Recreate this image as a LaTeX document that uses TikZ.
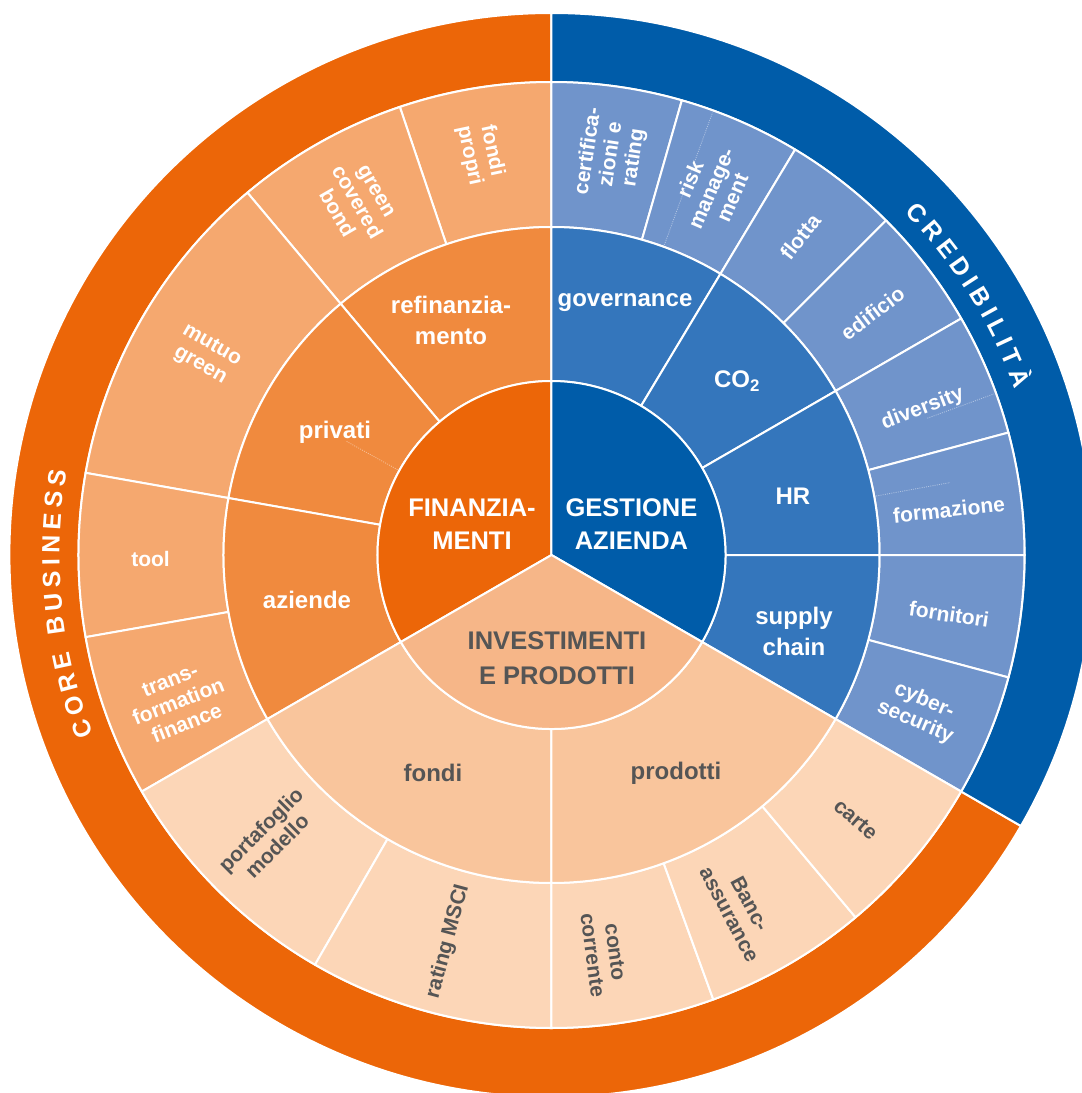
\documentclass[tikz,border=0pt]{standalone}
\usepackage{fontspec}
\setmainfont{Liberation Sans}
\definecolor{orA}{HTML}{EC6608}
\definecolor{orB}{HTML}{F08A3E}
\definecolor{orC}{HTML}{F5A86F}
\definecolor{blA}{HTML}{005CA9}
\definecolor{blB}{HTML}{3476BC}
\definecolor{blC}{HTML}{7094CB}
\definecolor{inA}{HTML}{F6B688}
\definecolor{inB}{HTML}{F9C59C}
\definecolor{inC}{HTML}{FCD6B7}
\definecolor{txtgray}{HTML}{555555}
% annular sector: r1 r2 a1 a2 colour
\newcommand{\annsec}[5]{%
  \path[fill=#5, sep] (#3:#1pt) arc[start angle=#3, end angle=#4, radius=#1pt]
    -- (#4:#2pt) arc[start angle=#4, end angle=#3, radius=#2pt] -- cycle;}
% pie sector: r a1 a2 colour
\newcommand{\piesec}[4]{%
  \path[fill=#4, sep] (0,0) -- (#2:#1pt) arc[start angle=#2, end angle=#3, radius=#1pt] -- cycle;}
\begin{document}
\begin{tikzpicture}[
  sep/.style={draw=white, line width=2pt, line join=round},
  faint/.style={draw=white, opacity=0.45, line width=0.8pt, dash pattern=on 1pt off 1.2pt},
  lbl/.style={font=\bfseries\fontsize{21}{23}\selectfont, align=center, inner sep=0pt},
  lw/.style={lbl, text=white},
  lg/.style={lbl, text=txtgray},
  midw/.style={font=\bfseries\fontsize{24}{31}\selectfont, align=center, inner sep=0pt, text=white},
  midg/.style={font=\bfseries\fontsize{24}{31}\selectfont, align=center, inner sep=0pt, text=txtgray},
  ctrw/.style={font=\bfseries\fontsize{25.5}{33.5}\selectfont, align=center, inner sep=0pt, text=white},
  ctrg/.style={font=\bfseries\fontsize{25.5}{35}\selectfont, align=center, inner sep=0pt, text=txtgray},
  bandletter/.style={font=\bfseries\fontsize{25}{25}\selectfont, text=white, anchor=base, inner sep=0pt}
]
\path[use as bounding box] (-551.5pt,-538pt) rectangle (530.5pt,555pt);
\clip (-551.5pt,-538pt) rectangle (530.5pt,555pt);
\fill[white] (-551.5pt,-538pt) rectangle (530.5pt,555pt);

% outer band
\annsec{473}{542}{90}{330}{orA}
\annsec{473}{542}{-30}{90}{blA}

% leaves: finanziamenti
\annsec{328}{473}{90}{108.7}{orC}
\annsec{328}{473}{108.7}{130}{orC}
\annsec{328}{473}{130}{170}{orC}
\annsec{328}{473}{170}{190}{orC}
\annsec{328}{473}{190}{210}{orC}
% leaves: gestione azienda
\annsec{328}{473}{74}{90}{blC}
\annsec{328}{473}{59}{74}{blC}
\annsec{328}{473}{45}{59}{blC}
\annsec{328}{473}{30}{45}{blC}
\annsec{328}{473}{15}{30}{blC}
\annsec{328}{473}{0}{15}{blC}
\annsec{328}{473}{-15}{0}{blC}
\annsec{328}{473}{-30}{-15}{blC}
% leaves: investimenti
\annsec{328}{473}{210}{240}{inC}
\annsec{328}{473}{240}{270}{inC}
\annsec{328}{473}{270}{290}{inC}
\annsec{328}{473}{290}{310}{inC}
\annsec{328}{473}{310}{330}{inC}

% level 2
\annsec{174}{328}{90}{130}{orB}
\annsec{174}{328}{130}{170}{orB}
\annsec{174}{328}{170}{210}{orB}
\annsec{174}{328}{59}{90}{blB}
\annsec{174}{328}{30}{59}{blB}
\annsec{174}{328}{0}{30}{blB}
\annsec{174}{328}{-30}{0}{blB}
\annsec{174}{328}{210}{270}{inB}
\annsec{174}{328}{270}{330}{inB}

% centre
\piesec{174}{90}{210}{orA}
\piesec{174}{-30}{90}{blA}
\piesec{174}{210}{330}{inA}

% faint sliver lines
\draw[faint] (151:176pt) -- (151:235pt);
\draw[faint] (70:330pt) -- (70:471pt);
\draw[faint] (20:400pt) -- (20:471pt);
\draw[faint] (10.3:330pt) -- (10.3:405pt);

% centre labels
\node[ctrw] (fin) at (-79.5pt,31pt) {FINANZIA-\\MENTI};
\node[ctrw] (ges) at (80pt,31pt) {GESTIONE\\AZIENDA};
\node[ctrg] (inv) at (5.5pt,-103pt) {INVESTIMENTI\\E PRODOTTI};

% level 2 labels
\node[midw] (refin) at (-100.5pt,235pt) {refinanzia-\\mento};
\node[midw] (priv) at (-216.5pt,123pt) {privati};
\node[midw] (azi) at (-244.5pt,-45pt) {aziende};
\node[midw] (gov) at (73.5pt,252pt) {governance};
\node[midw] (co2) at (185.5pt,174pt) {CO\textsubscript{2}};
\node[midw] (hr) at (241.5pt,59pt) {HR};
\node[midw] (supp) at (242.5pt,-76pt) {supply\\chain};
\node[midg] (fondi) at (-118.5pt,-218pt) {fondi};
\node[midg] (prod) at (124.5pt,-218pt) {prodotti};

% leaf labels
\node[lw, rotate=-78] (fp) at (100:408pt) {fondi\\propri};
\node[lw, rotate=-60] (gcb) at (119:403pt) {green\\covered\\bond};
\node[lw, rotate=-30] (mg) at (150:399pt) {mutuo\\green};
\node[lw] (tool) at (180.5:401pt) {tool};
\node[lw, rotate=21.5] (tff) at (201.5:401pt) {trans-\\formation\\finance};
\node[lw, rotate=81.5] (cer) at (81.5:405pt) {certifica-\\zioni e\\rating};
\node[lw, rotate=66.5] (risk) at (66.5:400pt) {risk\\manage-\\ment};
\node[lw, rotate=52] (flo) at (52:404pt) {flotta};
\node[lw, rotate=37] (edi) at (37:402pt) {edificio};
\node[lw, rotate=21] (div) at (21.5:399pt) {diversity};
\node[lw, rotate=6] (form) at (6.5:400pt) {formazione};
\node[lw, rotate=-8.5] (forn) at (-8.5:402pt) {fornitori};
\node[lw, rotate=-23] (cyb) at (-23:400pt) {cyber-\\security};
\node[lg, rotate=45] (pm) at (225:400pt) {portafoglio\\modello};
\node[lg, rotate=75] (msci) at (255:400pt) {rating MSCI};
\node[lg, rotate=-82.5] (cc) at (-82.5:402pt) {conto\\corrente};
\node[lg, rotate=-62] (banc) at (-62:401pt) {Banc-\\assurance};
\node[lg, rotate=-41] (carte) at (-41:403pt) {carte};

% band texts
\foreach \ch/\ang [count=\i] in {C/200.35, O/197.58, R/194.80, E/192.19, B/188.15, U/185.46, S/182.84, I/180.86, N/178.81, E/176.19, S/173.66, S/171.12}
  \node[bandletter, rotate=\ang-90] (cb\i) at (\ang:492pt) {\ch};
\foreach \ch/\ang [count=\i] in {C/43.03, R/40.34, E/37.72, D/35.11, I/33.05, B/30.99, I/28.94, L/27.04, I/25.14, T/23.24, À/20.70}
  \node[bandletter, rotate=\ang-90] (cr\i) at (\ang:492pt) {\ch};
\end{tikzpicture}
\end{document}
